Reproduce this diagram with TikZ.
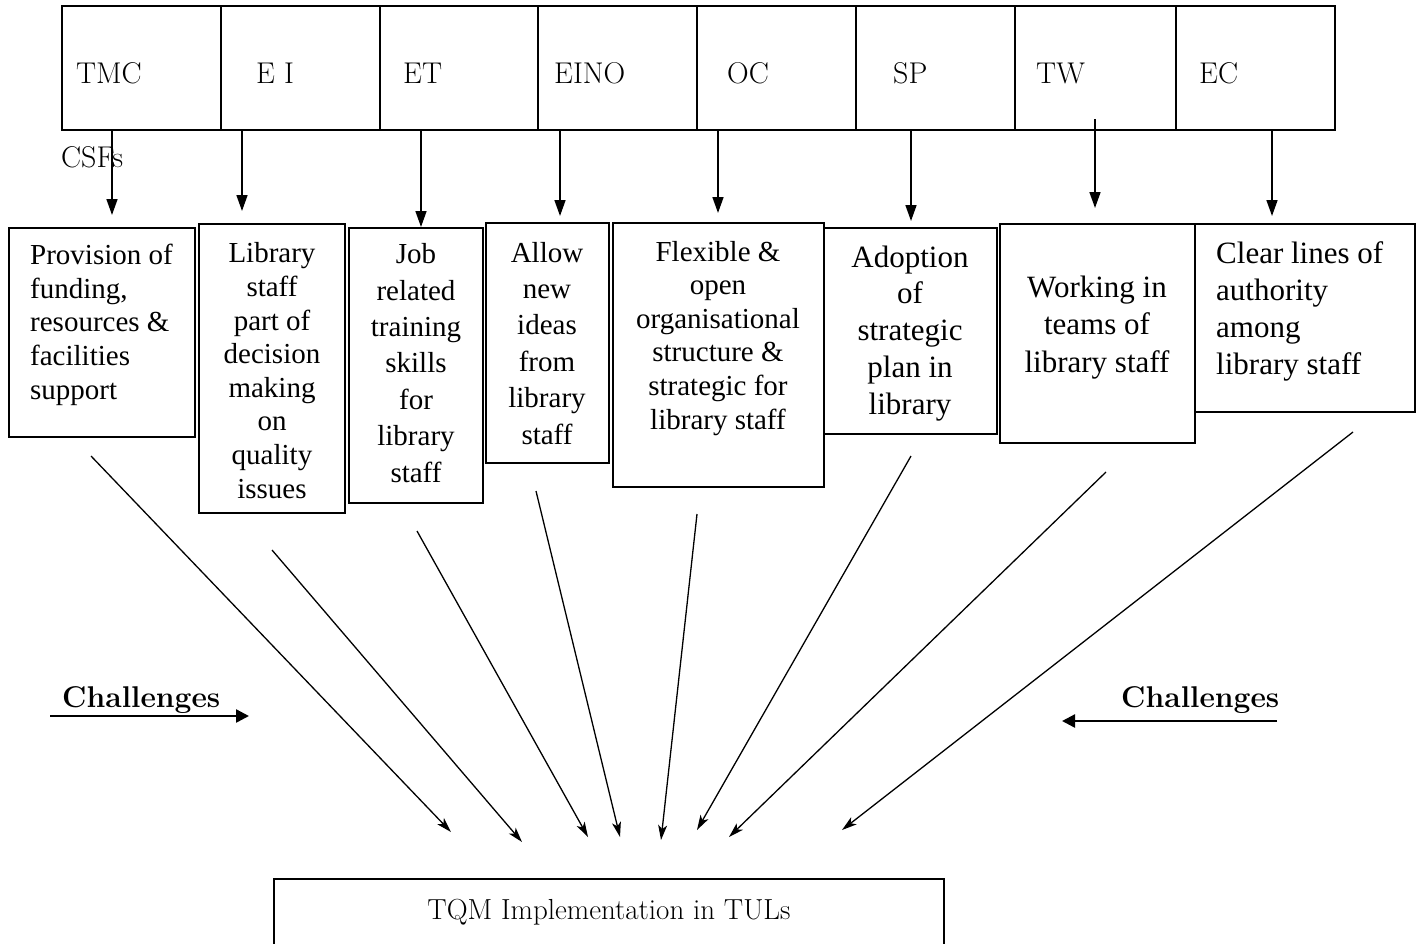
\documentclass[tikz,border=0pt]{standalone}
\usepackage{fontspec}
\newfontfamily\tnr{Liberation Serif}
\usetikzlibrary{arrows.meta}
\begin{document}
\begin{tikzpicture}[x=1pt,y=-1pt,
 cell/.style={draw,line width=1.6pt,minimum height=124pt,inner sep=0pt,outer sep=0pt,anchor=north west},
 box/.style={draw,line width=2.6pt,inner sep=0pt,outer sep=0pt,anchor=north west},
 lab/.style={font=\fontsize{30}{36}\selectfont,anchor=base west,inner sep=0pt},
 txta/.style={inner sep=0pt,anchor=base,align=center,font=\tnr\fontsize{29}{33.6}\selectfont},
 txtb/.style={inner sep=0pt,anchor=base,align=center,font=\tnr\fontsize{29}{36.4}\selectfont},
 txtc/.style={inner sep=0pt,anchor=base,align=center,font=\tnr\fontsize{31}{36.7}\selectfont},
 varr/.style={line width=1.6pt,-{Triangle[length=16pt,width=11pt]}},
 darr/.style={line width=1.3pt,-{Stealth[length=15pt,width=9pt,inset=4pt]}},
 carr/.style={line width=2.4pt,-{Triangle[length=13pt,width=13pt]}},
]
\useasboundingbox (0,0) rectangle (1423,943);

% top row of CSF cells
\node[cell,minimum width=159pt] (c1) at (62,6) {};
\node[cell,minimum width=159pt] (c2) at (221,6) {};
\node[cell,minimum width=158pt] (c3) at (380,6) {};
\node[cell,minimum width=159pt] (c4) at (538,6) {};
\node[cell,minimum width=159pt] (c5) at (697,6) {};
\node[cell,minimum width=159pt] (c6) at (856,6) {};
\node[cell,minimum width=161pt] (c7) at (1015,6) {};
\node[cell,minimum width=159pt] (c8) at (1176,6) {};

\node[lab] (l1) at (76,83) {TMC};
\node[lab] (l2) at (256,83) {E I};
\node[lab] (l3) at (403,83) {ET};
\node[lab] (l4) at (554,83) {EINO};
\node[lab] (l5) at (727,83) {OC};
\node[lab] (l6) at (893,83) {SP};
\node[lab] (l7) at (1036,83) {TW};
\node[lab] (l8) at (1199,83) {EC};

\node[lab] (csf) at (61,167) {CSFs};

% lower boxes
\node[box,minimum width=186pt,minimum height=209pt] (b1) at (9,228) {};
\node[box,minimum width=146pt,minimum height=289pt] (b2) at (199,224) {};
\node[box,minimum width=134pt,minimum height=275pt] (b3) at (349,228) {};
\node[box,minimum width=123pt,minimum height=240pt] (b4) at (486,223) {};
\node[box,minimum width=211pt,minimum height=264pt] (b5) at (613,223) {};
\node[box,minimum width=173pt,minimum height=206pt] (b6) at (824,228) {};
\node[box,minimum width=195pt,minimum height=219pt] (b7) at (1000,224) {};
\node[box,minimum width=220pt,minimum height=188pt] (b8) at (1195,224) {};

% (anchors are at the baseline of the last line)
\node[txta,align=left,anchor=base west] (t1) at (30,399) {Provision of\\funding,\\resources \&\\facilities\\support};
\node[txta] (t2) at (272,498) {Library\\staff\\part of\\decision\\making\\on\\quality\\issues};
\node[txtb] (t3) at (416,482) {Job\\related\\training\\skills\\for\\library\\staff};
\node[txtb] (t4) at (547,444) {Allow\\new\\ideas\\from\\library\\staff};
\node[txta] (t5) at (718,429) {Flexible \&\\open\\organisational\\structure \&\\strategic for\\library staff};
\node[txtc] (t6) at (910,414) {Adoption\\of\\strategic\\plan in\\library};
\node[txtc,font=\tnr\fontsize{31}{37.5}\selectfont] (t7) at (1097,372) {Working in\\teams of\\library staff};
\node[txtc,align=left,anchor=base west] (t8) at (1216,374) {Clear lines of\\authority\\among\\library staff};

% vertical arrows
\coordinate (v1) at (112,215);
\coordinate (v2) at (242,211);
\coordinate (v3) at (421,227);
\coordinate (v4) at (560,216);
\coordinate (v5) at (718,213);
\coordinate (v6) at (911,221);
\coordinate (v7) at (1095,208);
\coordinate (v7s) at (1095,119);
\coordinate (v8) at (1272,216);
\draw[varr] (v1 |- c1.south) -- (v1);
\draw[varr] (v2 |- c2.south) -- (v2);
\draw[varr] (v3 |- c3.south) -- (v3);
\draw[varr] (v4 |- c4.south) -- (v4);
\draw[varr] (v5 |- c5.south) -- (v5);
\draw[varr] (v6 |- c6.south) -- (v6);
\draw[varr] (v7s) -- (v7);
\draw[varr] (v8 |- c8.south) -- (v8);

% TQM box
\node[box,minimum width=670pt,minimum height=90pt] (tqm) at (274,879) {};
\node[lab,anchor=base,font=\fontsize{29}{34}\selectfont] (tqmt) at (609,919) {TQM Implementation in TULs};

% diagonal arrows
\coordinate (s1) at (91,456);   \coordinate (e1) at (451,832);
\coordinate (s2) at (272,550);  \coordinate (e2) at (522,842);
\coordinate (s3) at (417,531);  \coordinate (e3) at (588,837);
\coordinate (s4) at (536,491);  \coordinate (e4) at (620,837);
\coordinate (s5) at (697,514);  \coordinate (e5) at (661,840);
\coordinate (s6) at (911,456);  \coordinate (e6) at (697,830);
\coordinate (s7) at (1106,472); \coordinate (e7) at (729,837);
\coordinate (s8) at (1353,432); \coordinate (e8) at (842,830);
\foreach \i in {1,...,8} \draw[darr] (s\i) -- (e\i);

% challenges
\node[lab,font=\bfseries\fontsize{30}{36}\selectfont] (ch1) at (62,707) {Challenges};
\node[lab,font=\bfseries\fontsize{30}{36}\selectfont] (ch2) at (1121,707) {Challenges};
\coordinate (ca1) at (50,716);   \coordinate (cb1) at (249,716);
\coordinate (ca2) at (1277,721); \coordinate (cb2) at (1062,721);
\draw[carr] (ca1) -- (cb1);
\draw[carr] (ca2) -- (cb2);
\end{tikzpicture}
\end{document}
